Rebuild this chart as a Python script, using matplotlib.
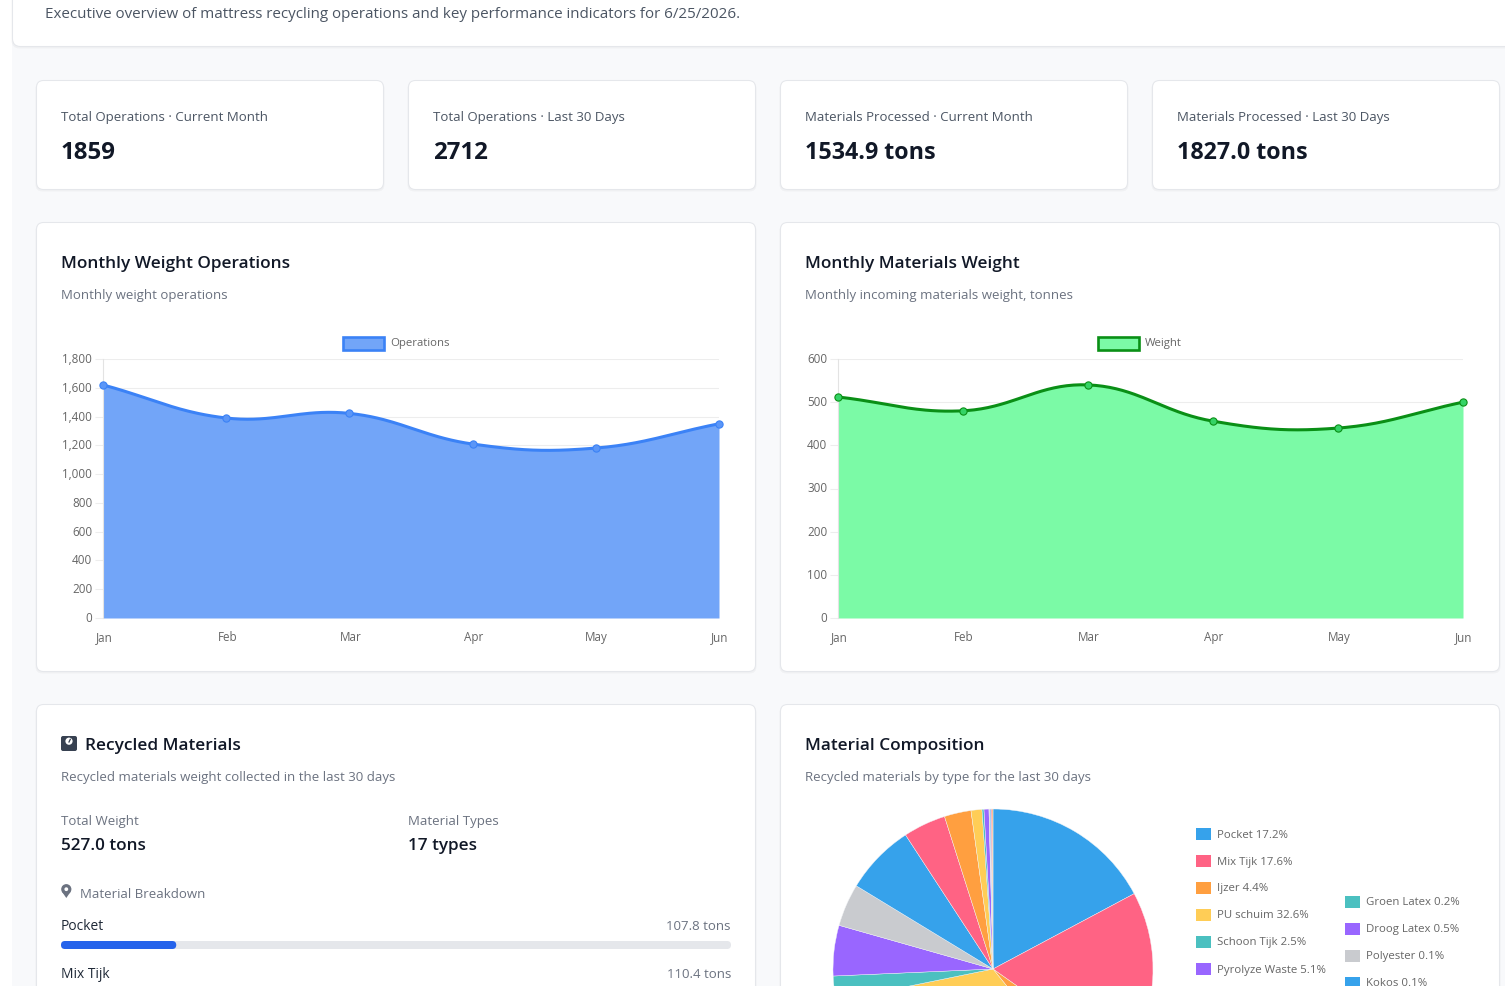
import numpy as np
import matplotlib
matplotlib.use("Agg")
import matplotlib.pyplot as plt
from matplotlib.patches import FancyBboxPatch, Circle, Polygon, Rectangle
from matplotlib.transforms import ScaledTranslation

W, H = 1505, 987
FONT = "Open Sans"
plt.rcParams["font.family"] = [FONT, "DejaVu Sans"]

# ---- data ----
subtitle = "Executive overview of mattress recycling operations and key performance indicators for 6/25/2026."
stat_labels = ["Total Operations · Current Month", "Total Operations · Last 30 Days",
               "Materials Processed · Current Month", "Materials Processed · Last 30 Days"]
stat_values = ["1859", "2712", "1534.9 tons", "1827.0 tons"]

months = ["Jan", "Feb", "Mar", "Apr", "May", "Jun"]
operations = [1620, 1390, 1422, 1209, 1181, 1350]
weights = [512, 480, 540, 456, 440, 500]
ops_ticks = [0, 200, 400, 600, 800, 1000, 1200, 1400, 1600, 1800]
weight_ticks = [0, 100, 200, 300, 400, 500, 600]

# clockwise slice shares, percent; the later slices have no visible caption
slice_shares = [17.2, 17.6, 4.4, 32.6, 2.5, 5.1, 4.3, 7.1, 4.3, 2.7, 1.1, 0.2, 0.5, 0.1, 0.1, 0.1, 0.1]
slice_colors = ["#36A2EB", "#FF6384", "#FF9F40", "#FFCD56", "#4BC0C0", "#9966FF", "#C9CBCF"]
legend_left = ["Pocket 17.2%", "Mix Tijk 17.6%", "Ijzer 4.4%", "PU schuim 32.6%", "Schoon Tijk 2.5%", "Pyrolyze Waste 5.1%"]
legend_right = ["Groen Latex 0.2%", "Droog Latex 0.5%", "Polyester 0.1%", "Kokos 0.1%"]
pocket_share = 17.2

INK = "#111827"
MUTED = "#6B7280"
SLATE = "#4B5563"
TICK = "#666666"
BODY_PX = 13.2

fig = plt.figure(figsize=(W / 100, H / 100), dpi=100, facecolor="white")
bg = fig.add_axes([0, 0, 1, 1])
bg.set_xlim(0, W)
bg.set_ylim(H - 1, -1)
bg.axis("off")


def card(x0, y0, x1, y1, r=7, z=1):
    # faint shadow under a white rounded panel
    x0, y0, x1, y1 = x0 + 0.5, y0 + 0.5, x1 - 0.5, y1 - 0.5
    bg.add_patch(FancyBboxPatch((x0 + r - 1, y0 + r + 1), x1 - x0 - 2 * r + 2, y1 - y0 - 2 * r + 1,
                                boxstyle=f"round,pad={r},rounding_size={r}", fc="black", ec="none",
                                alpha=0.03, zorder=z))
    bg.add_patch(FancyBboxPatch((x0 + r, y0 + r), x1 - x0 - 2 * r, y1 - y0 - 2 * r,
                                boxstyle=f"round,pad={r},rounding_size={r}", fc="white", ec="#E5E7EB",
                                lw=0.75, zorder=z + 0.1))


def txt(x, y, s, px, color=INK, weight="normal", ha="left", z=5):
    bg.text(x, y, s, fontsize=px * 0.72, color=color, fontweight=weight, ha=ha, va="center", zorder=z)


# page backdrop and header panel
bg.add_patch(Rectangle((12, -1), W - 12, H + 1, fc="#F8F9FB", ec="none", zorder=0))
card(12, -30, W + 30, 47, r=8)
txt(45, 13.5, subtitle, 15.1, SLATE)

# stat tiles
for x0, label, value in zip((36, 408, 780, 1152), stat_labels, stat_values):
    card(x0, 80, x0 + 348, 190)
    txt(x0 + 25, 116.3, label, BODY_PX, SLATE)
    txt(x0 + 25, 152, value, 23.3 if "tons" in value else 24, INK, "bold")

# chart panels
card(36, 222, 756, 672)
card(780, 222, 1500, 672)
card(36, 704, 756, H + 30)
card(780, 704, 1500, H + 30)
txt(61, 262.5, "Monthly Weight Operations", 17.2, INK, "semibold")
txt(61, 294, "Monthly weight operations", BODY_PX, MUTED)
txt(805, 262.5, "Monthly Materials Weight", 17.2, INK, "semibold")
txt(805, 294, "Monthly incoming materials weight, tonnes", BODY_PX, MUTED)


def tension_curve(xpx, ypx, tension=0.4, n=40):
    # cubic spline with the neighbour-weighted control points of a tensioned line
    pts = np.column_stack([xpx, ypx])
    out = []
    m = len(pts)
    prev_c, next_c = [], []
    for i in range(m):
        p0 = pts[max(i - 1, 0)]
        p1 = pts[i]
        p2 = pts[min(i + 1, m - 1)]
        d01 = np.hypot(*(p1 - p0))
        d12 = np.hypot(*(p2 - p1))
        total = d01 + d12
        s01 = d01 / total if total else 0
        s12 = d12 / total if total else 0
        prev_c.append(p1 - tension * s01 * (p2 - p0))
        next_c.append(p1 + tension * s12 * (p2 - p0))
    t = np.linspace(0, 1, n)[:, None]
    for i in range(m - 1):
        a, b, c, d = pts[i], next_c[i], prev_c[i + 1], pts[i + 1]
        out.append((1 - t) ** 3 * a + 3 * (1 - t) ** 2 * t * b + 3 * (1 - t) * t ** 2 * c + t ** 3 * d)
    return np.vstack(out)


def area_chart(x0, x1, ytop, ybot, values, ticks, name, line, fill, dot, legend_x):
    ax = fig.add_axes([x0 / W, 1 - ybot / H, (x1 - x0) / W, (ybot - ytop) / H])
    ax.set_xlim(0, len(values) - 1)
    ax.set_ylim(ticks[0], ticks[-1])
    ax.patch.set_alpha(0)
    xs = np.arange(len(values))
    xscale = (x1 - x0) / (len(values) - 1)
    yscale = (ybot - ytop) / ticks[-1]
    curve = tension_curve(xs * xscale, np.array(values) * yscale)
    cx, cy = curve[:, 0] / xscale, curve[:, 1] / yscale
    ax.fill_between(cx, 0, cy, color=fill, lw=0, zorder=2)
    ax.plot(cx, cy, color=line, lw=2.2, zorder=3, clip_on=False, solid_capstyle="round")
    ax.plot(xs, values, "o", ms=5.2, mfc=dot, mec=line, mew=0.8, zorder=4, clip_on=False)
    ax.set_yticks(ticks)
    ax.set_yticklabels([f"{v:,}" for v in ticks])
    ax.set_xticks(xs)
    ax.set_xticklabels(months)
    ax.tick_params(axis="y", length=5.8, width=0.8, color="#EDEDED", labelsize=8.4, labelcolor=TICK, pad=2)
    ax.tick_params(axis="x", length=0, labelsize=8.4, labelcolor=TICK, pad=8.5)
    # nudge value labels up onto their gridlines, month labels onto their points
    lift = ScaledTranslation(0, 2 / 100, fig.dpi_scale_trans)
    for lbl in ax.get_yticklabels():
        lbl.set_transform(lbl.get_transform() + lift)
    slide = ScaledTranslation(1 / 100, 0, fig.dpi_scale_trans)
    for lbl in ax.get_xticklabels():
        lbl.set_transform(lbl.get_transform() + slide)
    ax.grid(axis="y", color="#EDEDED", lw=0.8, zorder=1)
    ax.set_axisbelow(True)
    for side in ("top", "right", "bottom"):
        ax.spines[side].set_visible(False)
    ax.spines["left"].set_color("#E3E3E3")
    ax.spines["left"].set_linewidth(0.8)
    # single-series legend swatch above the plot
    bg.add_patch(Rectangle((legend_x, 336.5), 41, 13, fc=fill, ec=line, lw=1.9, zorder=6))
    txt(legend_x + 47, 342.8, name, 11.4, TICK)
    return ax


area_chart(103, 719, 360, 619, operations, ops_ticks, "Operations", "#3B82F6", "#72A5F8", "#5B96F7", 343)
area_chart(838, 1463, 360, 619, weights, weight_ticks, "Weight", "#0A8F16", "#7BFAA6", "#34D366", 1097.5)

# recycled materials panel: scale icon
bg.add_patch(FancyBboxPatch((63, 738), 12, 11, boxstyle="round,pad=2,rounding_size=2", fc="#374151", ec="none", zorder=5))
bg.add_patch(Circle((69, 741.2), 3.6, fc="white", ec="none", zorder=6))
bg.plot([69, 70.3], [742, 739.3], color="#374151", lw=0.9, zorder=7)
txt(85, 744.5, "Recycled Materials", 17.2, INK, "semibold")
txt(61, 776, "Recycled materials weight collected in the last 30 days", BODY_PX, MUTED)
txt(61, 820, "Total Weight", BODY_PX, MUTED)
txt(61, 845, "527.0 tons", 17.1, INK, "semibold")
txt(408, 820, "Material Types", BODY_PX, MUTED)
txt(408, 845, "17 types", 17.1, INK, "semibold")
# map pin icon
bg.add_patch(Circle((66.3, 889.2), 5.1, fc=MUTED, ec="none", zorder=5))
bg.add_patch(Polygon([(61.7, 891.3), (70.9, 891.3), (66.3, 898)], fc=MUTED, ec="none", zorder=5))
bg.add_patch(Circle((66.3, 889.2), 1.9, fc="white", ec="none", zorder=6))
txt(80, 893, "Material Breakdown", BODY_PX, MUTED)
txt(61, 925, "Pocket", 13.7, "#1F2937")
txt(731, 925, "107.8 tons", BODY_PX, MUTED, ha="right")
txt(61, 973, "Mix Tijk", 13.7, "#1F2937")
txt(731, 973, "110.4 tons", BODY_PX, MUTED, ha="right")


def bar_shape(x0, x1, color, z):
    h, r = 8, 4
    bg.add_patch(FancyBboxPatch((x0 + r, 941 + r), x1 - x0 - 2 * r, h - 2 * r,
                                boxstyle=f"round,pad={r},rounding_size={r}", fc=color, ec="none", zorder=z))


bar_shape(61, 731, "#E5E7EB", 5)
bar_shape(61, 61 + 670 * pocket_share / 100, "#2563EB", 6)

# composition panel
txt(805, 744.5, "Material Composition", 17.2, INK, "semibold")
txt(805, 776, "Recycled materials by type for the last 30 days", BODY_PX, MUTED)

pie_ax = fig.add_axes([833 / W, 1 - 1130 / H, 320 / W, 320 / H])
colors = [slice_colors[i % len(slice_colors)] for i in range(len(slice_shares))]
pie_ax.pie(slice_shares, colors=colors, startangle=90, counterclock=False, radius=1,
           wedgeprops={"edgecolor": "#F2F4F7", "linewidth": 0.3})
pie_ax.set_xlim(-1, 1)
pie_ax.set_ylim(-1, 1)

for i, label in enumerate(legend_left):
    y = 834 + 27 * i
    bg.add_patch(Rectangle((1196, y - 6), 15, 12, fc=slice_colors[i], ec="none", zorder=6))
    txt(1217, y, label, 11.4, TICK)
for i, label in enumerate(legend_right):
    y = 901.5 + 27 * i
    bg.add_patch(Rectangle((1345, y - 6), 15, 12, fc=slice_colors[(4 + i) % 7], ec="none", zorder=6))
    txt(1366, y, label, 11.4, TICK)

fig.savefig("out.png", dpi=100, facecolor="white")
